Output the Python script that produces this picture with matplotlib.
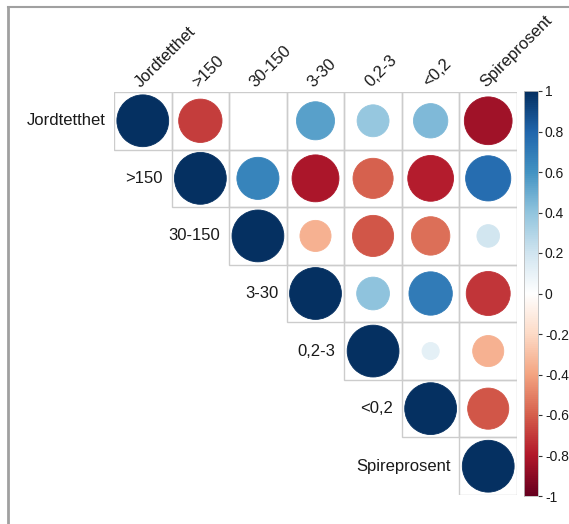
import matplotlib.pyplot as plt
import numpy as np
from matplotlib.colors import LinearSegmentedColormap, Normalize
from matplotlib.patches import Circle, Rectangle
from matplotlib.lines import Line2D

plt.rcParams['font.family'] = ['Liberation Sans', 'DejaVu Sans']

variables = ['Jordtetthet', '>150', '30-150', '3-30', '0,2-3', '<0,2', 'Spireprosent']

# upper triangle of the correlation matrix, one list per row (diagonal first)
row_jord = [1.00, -0.70, 0.00, 0.54, 0.38, 0.44, -0.85]
row_150 = [1.00, 0.66, -0.82, -0.60, -0.78, 0.76]
row_30_150 = [1.00, -0.36, -0.63, -0.55, 0.19]
row_3_30 = [1.00, 0.40, 0.70, -0.72]
row_02_3 = [1.00, 0.11, -0.36]
row_02 = [1.00, -0.63]
row_spire = [1.00]
upper_rows = [row_jord, row_150, row_30_150, row_3_30, row_02_3, row_02, row_spire]

cbar_ticks = [1, 0.8, 0.6, 0.4, 0.2, 0, -0.2, -0.4, -0.6, -0.8, -1]

rdbu = ["#67001F", "#B2182B", "#D6604D", "#F4A582", "#FDDBC7", "#FFFFFF",
        "#D1E5F0", "#92C5DE", "#4393C3", "#2166AC", "#053061"]
cmap = LinearSegmentedColormap.from_list('col2', rdbu, N=200)
norm = Normalize(-1, 1)

n = len(variables)
W, H = 569, 524
fig = plt.figure(figsize=(W / 100, H / 100), dpi=100)

# frame line on left and top
fig.add_artist(Line2D([8 / W, 8 / W], [0, 1 - 7 / H], color='#A0A0A0', lw=2))
fig.add_artist(Line2D([8 / W, 1], [1 - 7 / H, 1 - 7 / H], color='#A0A0A0', lw=1.5))

x0, y0, side = 114, 92, 403
ax = fig.add_axes([x0 / W, 1 - (y0 + side) / H, side / W, side / H])
ax.set_xlim(0, n)
ax.set_ylim(n, 0)
ax.set_axis_off()

text_col = '#1a1a1a'
for i, row in enumerate(upper_rows):
    for k, r in enumerate(row):
        j = i + k
        ax.add_patch(Rectangle((j, i), 1, 1, fill=False, ec='#CCCCCC', lw=1))
        rad = 0.9 * np.sqrt(abs(r)) / 2
        if rad > 0:
            c = cmap(norm(r))
            ax.add_patch(Circle((j + 0.5, i + 0.5), rad, fc=c, ec=c, lw=0.6))
    # row label to the left of the diagonal cell
    ax.text(i - 0.15, i + 0.5, variables[i], ha='right', va='center',
            fontsize=12, color=text_col)

for j, name in enumerate(variables):
    ax.text(j + 0.5, -0.04, name, rotation=45, rotation_mode='anchor',
            ha='left', va='bottom', fontsize=12, color=text_col)

# colour bar
cb_top, cb_bot = 91, 496
cax = fig.add_axes([524 / W, 1 - cb_bot / H, 14 / W, (cb_bot - cb_top) / H])
grad = np.linspace(-1, 1, 400).reshape(-1, 1)
cax.imshow(grad, aspect='auto', cmap=cmap, norm=norm, origin='lower',
           extent=(0, 1, -1, 1))
cax.set_xlim(0, 1)
cax.set_ylim(-1, 1)
cax.set_xticks([])
cax.yaxis.tick_right()
cax.set_yticks(cbar_ticks)
cax.set_yticklabels([f'{t:g}' for t in cbar_ticks])
cax.tick_params(axis='y', length=3, width=0.8, color='#333333', labelsize=10,
                labelcolor=text_col, pad=2)
for s in cax.spines.values():
    s.set_color('#BBBBBB')
    s.set_linewidth(0.6)

fig.savefig('out.png', dpi=100)
